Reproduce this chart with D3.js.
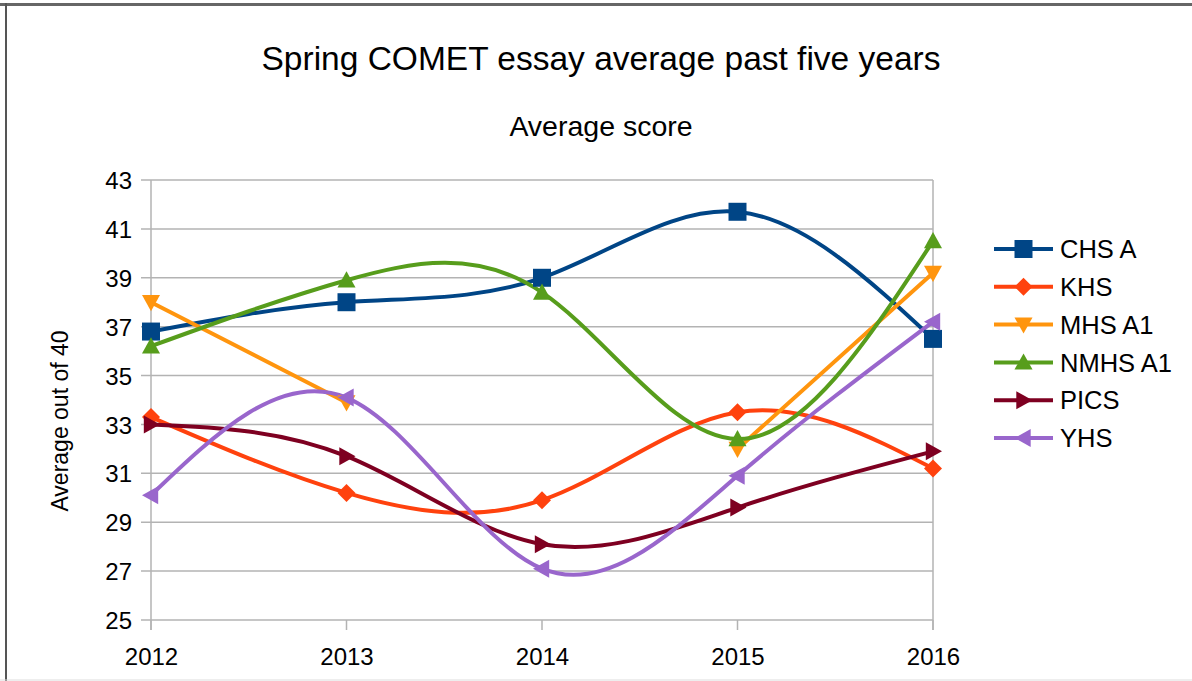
<!DOCTYPE html>
<html><head><meta charset="utf-8">
<script src="https://cdn.jsdelivr.net/npm/d3@7"></script>
<style>html,body{margin:0;padding:0;background:#fff;}svg{display:block;font-family:"Liberation Sans",Arial,sans-serif;}</style>
</head><body><svg id="c" width="1192" height="681"></svg>
<script>
const years = ["2012","2013","2014","2015","2016"];
const seriesNames = ["CHS A","KHS","MHS A1","NMHS A1","PICS","YHS"];
const chsA   = [36.8, 38.0, 39.0, 41.7, 36.5];
const khs    = [33.3, 30.2, 29.9, 33.5, 31.2];
const mhsA1  = [38.0, 33.9, null, 32.0, 39.2];
const nmhsA1 = [36.2, 38.9, 38.4, 32.4, 40.5];
const pics   = [33.0, 31.7, 28.1, 29.6, 31.9];
const yhs    = [30.1, 34.1, 27.1, 30.9, 37.2];
const yTicks = [25,27,29,31,33,35,37,39,41,43];
const colors = ["#004586","#ff420e","#ff950e","#579d1c","#7e0021","#9966cc"];
const markers = ["square","diamond","down","up","right","left"];
const title = "Spring COMET essay average past five years";
const subtitle = "Average score";
const yTitle = "Average out of 40";

const allSeries = [chsA,khs,mhsA1,nmhsA1,pics,yhs];
const svg = d3.select("#c");

// frame
svg.append("line").attr("x1",0).attr("x2",1192).attr("y1",4.5).attr("y2",4.5).attr("stroke","#666").attr("stroke-width",3);
svg.append("line").attr("x1",6).attr("x2",6).attr("y1",3).attr("y2",681).attr("stroke","#555").attr("stroke-width",2);
svg.append("line").attr("x1",0).attr("x2",1192).attr("y1",680).attr("y2",680).attr("stroke","#ddd").attr("stroke-width",1);

const x = d3.scalePoint().domain(years).range([151,933]);
const y = d3.scaleLinear().domain([25,43]).range([620,180]);

// grid
const g = svg.append("g");
g.selectAll(".gy").data(yTicks).join("line")
  .attr("x1",141).attr("x2",933).attr("y1",d=>y(d)).attr("y2",d=>y(d))
  .attr("stroke","#b3b3b3").attr("stroke-width",1.5);
g.append("line").attr("x1",151).attr("x2",151).attr("y1",180).attr("y2",630).attr("stroke","#b3b3b3").attr("stroke-width",1.5);
g.append("line").attr("x1",933).attr("x2",933).attr("y1",180).attr("y2",630).attr("stroke","#b3b3b3").attr("stroke-width",1.5);
g.selectAll(".tx").data(years).join("line")
  .attr("x1",d=>x(d)).attr("x2",d=>x(d)).attr("y1",620).attr("y2",630)
  .attr("stroke","#b3b3b3").attr("stroke-width",1.5);

// axis labels
const yAxis = d3.axisLeft(y).tickValues(yTicks).tickSize(0).tickPadding(0);
const ya = svg.append("g").attr("transform","translate(132,0)").call(yAxis);
ya.select(".domain").remove();
ya.selectAll("text").attr("font-size",24).attr("fill","#000").attr("font-family","Liberation Sans, Arial, sans-serif").attr("dy","0.36em");
const xAxis = d3.axisBottom(x).tickSize(0).tickPadding(0);
const xa = svg.append("g").attr("transform","translate(0,665)").call(xAxis);
xa.select(".domain").remove();
xa.selectAll("text").attr("font-size",24).attr("fill","#000").attr("font-family","Liberation Sans, Arial, sans-serif").attr("dy","0");

// titles
svg.append("text").attr("x",601).attr("y",70).attr("text-anchor","middle").attr("font-size",33.5).text(title);
svg.append("text").attr("x",601).attr("y",136).attr("text-anchor","middle").attr("font-size",28.5).text(subtitle);
svg.append("text").attr("transform","translate(68,421) rotate(-90)").attr("text-anchor","middle").attr("font-size",23).text(yTitle);

function markerPath(type, s){
  const h = s/2;
  switch(type){
    case "square": return `M${-h},${-h}H${h}V${h}H${-h}Z`;
    case "diamond": return `M0,${-h}L${h},0L0,${h}L${-h},0Z`;
    case "down": return `M${-h},${-h*0.8}H${h}L0,${h}Z`;
    case "up": return `M${-h},${h*0.8}H${h}L0,${-h}Z`;
    case "right": return `M${-h*0.8},${-h}L${h},0L${-h*0.8},${h}Z`;
    case "left": return `M${h*0.8},${-h}L${-h},0L${h*0.8},${h}Z`;
  }
}

const line = d3.line().defined(d=>d.v!=null).x(d=>x(d.year)).y(d=>y(d.v)).curve(d3.curveNatural);
allSeries.forEach((vals,i)=>{
  const pts = years.map((yr,j)=>({year:yr,v:vals[j]}));
  svg.append("path").attr("d",line(pts)).attr("fill","none").attr("stroke",colors[i]).attr("stroke-width",4).attr("stroke-linejoin","round");
});
allSeries.forEach((vals,i)=>{
  const pts = years.map((yr,j)=>({year:yr,v:vals[j]})).filter(d=>d.v!=null);
  svg.selectAll(null).data(pts).join("path")
    .attr("transform",d=>`translate(${x(d.year)},${y(d.v)})`)
    .attr("d",markerPath(markers[i],18)).attr("fill",colors[i]);
});

// legend
const lg = svg.append("g");
seriesNames.forEach((n,i)=>{
  const cy = 249 + i*37.8;
  lg.append("line").attr("x1",994).attr("x2",1053).attr("y1",cy).attr("y2",cy).attr("stroke",colors[i]).attr("stroke-width",4);
  lg.append("path").attr("transform",`translate(1023.5,${cy})`).attr("d",markerPath(markers[i],18)).attr("fill",colors[i]);
  lg.append("text").attr("x",1060).attr("y",cy).attr("dy","0.36em").attr("font-size",25.5).text(n);
});
</script></body></html>
